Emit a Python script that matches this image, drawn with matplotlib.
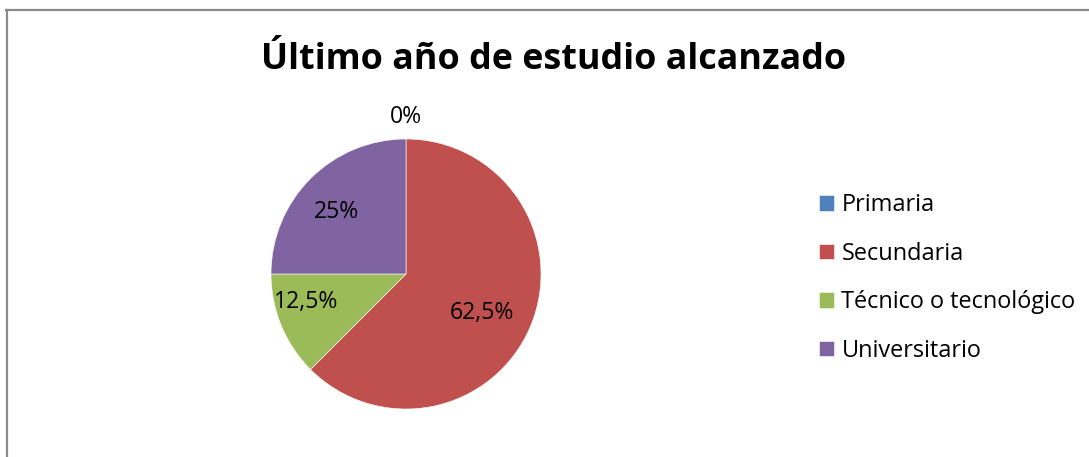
import numpy as np
import matplotlib
matplotlib.use("Agg")
import matplotlib.pyplot as plt
from matplotlib.lines import Line2D

# Données
categorias = ["Primaria", "Secundaria", "Técnico o tecnológico", "Universitario"]
porcentajes = [0, 62.5, 12.5, 25]
colores = ["#4F81BD", "#C0504D", "#9BBB59", "#8064A2"]
titulo = "Último año de estudio alcanzado"

plt.rcParams['font.family'] = ['Open Sans', 'DejaVu Sans']

W, H = 1089, 457
fig = plt.figure(figsize=(W / 100, H / 100), dpi=100)

# cadre gris (gauche et haut seulement, l'image est coupée)
fig.add_artist(Line2D([6.5 / W, 6.5 / W], [0, 1 - 10 / H], color="#8a8a8a", lw=1.6))
fig.add_artist(Line2D([6 / W, 1], [1 - 10 / H, 1 - 10 / H], color="#8a8a8a", lw=1.6))

cx, cy, r = 406, 274, 135
ax = fig.add_axes([(cx - r) / W, (H - cy - r) / H, 2 * r / W, 2 * r / H])

def fmt(p):
    s = f"{p:.1f}".rstrip("0").rstrip(".")
    return s.replace(".", ",") + "%"

wedges, _ = ax.pie(porcentajes, colors=colores, startangle=90, counterclock=False,
                   wedgeprops=dict(edgecolor="white", linewidth=0.4))
ax.set_xlim(-1, 1)
ax.set_ylim(-1, 1)
ax.set_aspect("equal")

# distance des étiquettes depuis le centre (fraction du rayon)
distances = [1.16, 0.63, 0.77, 0.69]
decalages = [0, -5, -7, 3]
for w, p, d, dec in zip(wedges, porcentajes, distances, decalages):
    ang = np.deg2rad((w.theta1 + w.theta2) / 2 + dec)
    ax.text(d * np.cos(ang), d * np.sin(ang), fmt(p), ha="center", va="center",
            fontsize=16.6, color="black")

fig.text(554 / W, 1 - 60 / H, titulo, ha="center", va="center",
         fontsize=25.8, fontweight="bold")

fig.legend(wedges, categorias, loc="upper left", bbox_to_anchor=(810 / W, 1 - 184 / H),
           frameon=False, fontsize=16.9, handlelength=0.64, handleheight=0.64,
           handletextpad=0.3, labelspacing=1.04, borderaxespad=0)

fig.savefig("out.png", dpi=100)
